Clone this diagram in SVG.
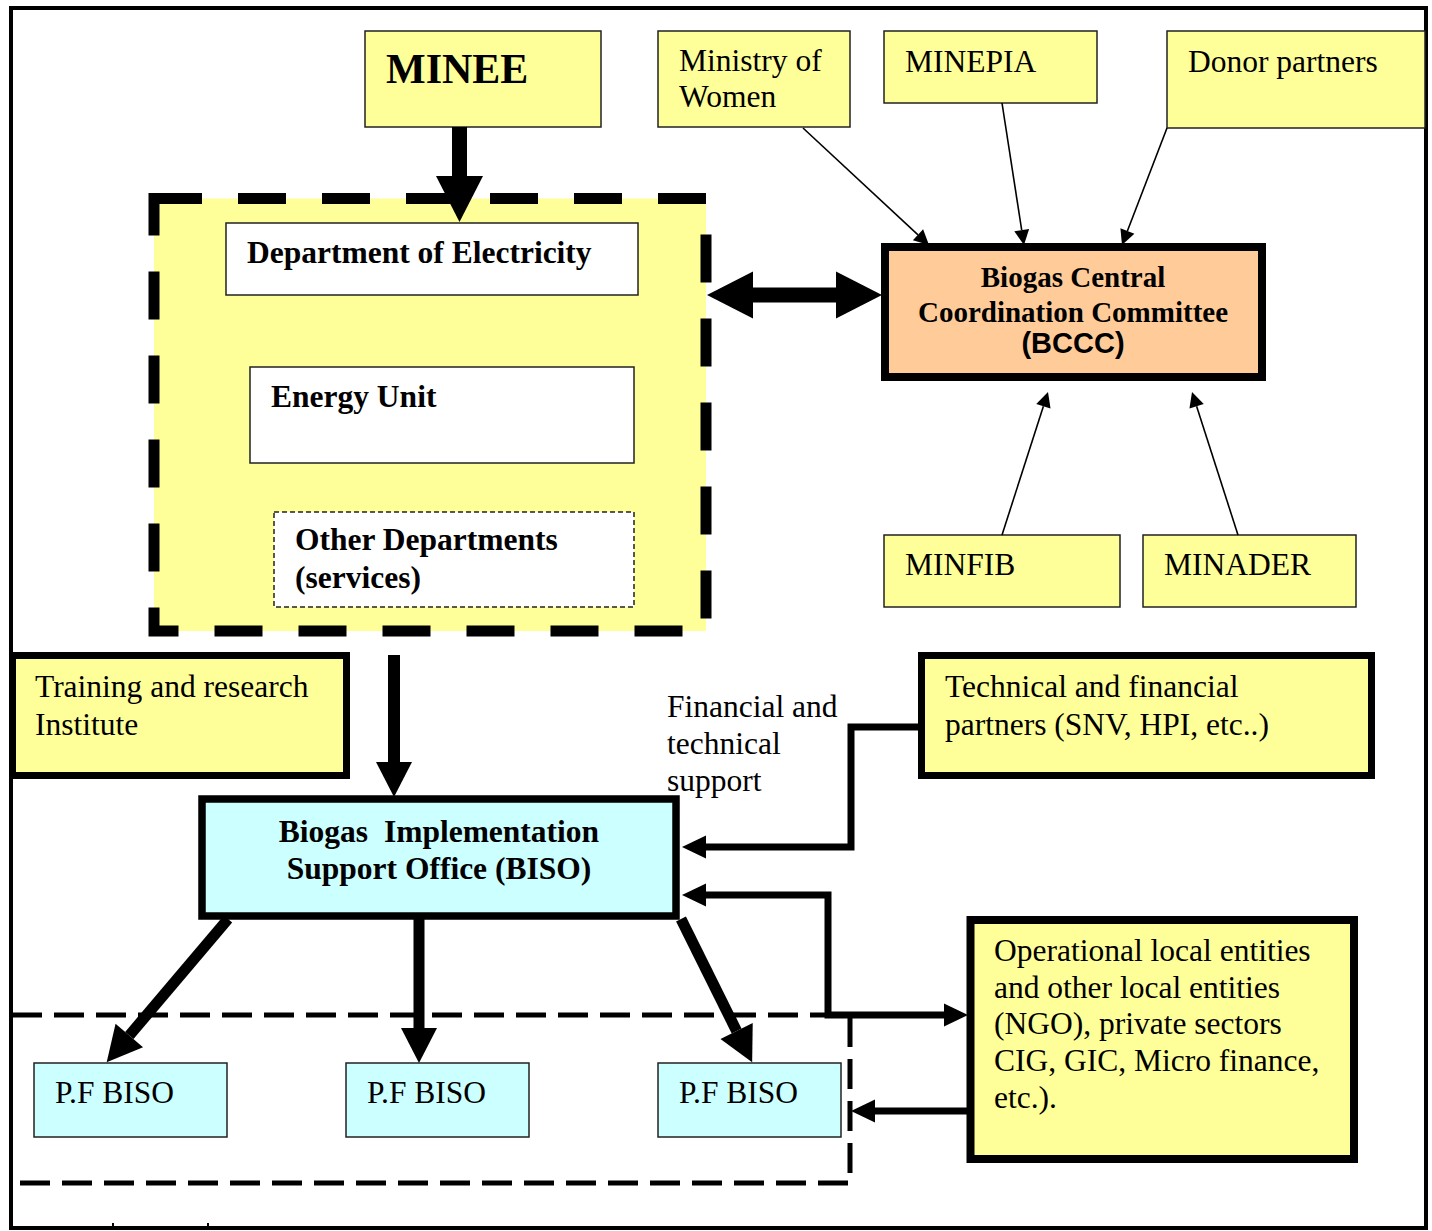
<svg xmlns="http://www.w3.org/2000/svg" width="1432" height="1231" viewBox="0 0 1432 1231">
<style>
.t{font-family:"Liberation Serif","Times New Roman",serif;font-size:31.5px;fill:#000}
.b{font-family:"Liberation Serif","Times New Roman",serif;font-size:31.5px;font-weight:bold;fill:#000}
.bc{font-family:"Liberation Serif","Times New Roman",serif;font-size:29px;font-weight:bold;fill:#000}
.bs{font-family:"Liberation Sans",Arial,sans-serif;font-size:29px;font-weight:bold;fill:#000}
.yel{fill:#FFFF99;stroke:#222;stroke-width:1.5}
.cyan{fill:#CCFFFF;stroke:#222;stroke-width:1.5}
.wht{fill:#FFFFFF;stroke:#222;stroke-width:1.5}
.thk{stroke:#000;stroke-linejoin:miter}
.thin{fill:none;stroke:#000;stroke-width:1.6}
.conn{fill:none;stroke:#000;stroke-width:7}
</style>
<defs>
<marker id="mThin" markerUnits="userSpaceOnUse" orient="auto" overflow="visible" markerWidth="20" markerHeight="20" refX="0" refY="0"><path d="M0,-7.5 L15,0 L0,7.5 z" fill="#000"/></marker>
<marker id="mConn" markerUnits="userSpaceOnUse" orient="auto-start-reverse" overflow="visible" markerWidth="30" markerHeight="30" refX="0" refY="0"><path d="M0,-11.5 L24,0 L0,11.5 z" fill="#000"/></marker>
<marker id="mBig" markerUnits="userSpaceOnUse" orient="auto-start-reverse" overflow="visible" markerWidth="50" markerHeight="50" refX="0" refY="0"><path d="M0,-23.5 L46,0 L0,23.5 z" fill="#000"/></marker>
<marker id="mMid" markerUnits="userSpaceOnUse" orient="auto" overflow="visible" markerWidth="40" markerHeight="40" refX="0" refY="0"><path d="M0,-18 L35,0 L0,18 z" fill="#000"/></marker>
</defs>
<rect x="0" y="0" width="1432" height="1231" fill="#FFFFFF"/>

<g id="outer-frame">
<rect x="11" y="8" width="1415" height="1220" fill="none" stroke="#000" stroke-width="4"/>
<line x1="113" y1="1223" x2="113" y2="1228" stroke="#000" stroke-width="2"/>
<line x1="208" y1="1223" x2="208" y2="1228" stroke="#000" stroke-width="2"/>
</g>

<g id="pf-group-frame">
<path d="M12,1015 H850 V1183 H12" fill="none" stroke="#000" stroke-width="5" stroke-dasharray="30 12"/>
</g>

<g id="node-minee-group">
<rect x="154" y="198.5" width="552" height="432.5" fill="#FFFF99" stroke="#000" stroke-width="11" stroke-dasharray="48 36"/>
</g>

<g id="node-minee">
<rect class="yel" x="365" y="31" width="236" height="96"/>
<text class="b" x="386" y="83" style="font-size:42px">MINEE</text>
</g>

<g id="node-ministry-women">
<rect class="yel" x="658" y="31" width="192" height="96"/>
<text class="t" x="679" y="71">Ministry of</text>
<text class="t" x="679" y="107">Women</text>
</g>

<g id="node-minepia">
<rect class="yel" x="884" y="31" width="213" height="72"/>
<text class="t" x="905" y="72">MINEPIA</text>
</g>

<g id="node-donor">
<rect class="yel" x="1167" y="31" width="258" height="97"/>
<text class="t" x="1188" y="72">Donor partners</text>
</g>

<g id="node-dept-electricity">
<rect class="wht" x="226" y="223" width="412" height="72"/>
<text class="b" x="247" y="263">Department of Electricity</text>
</g>

<g id="node-energy-unit">
<rect class="wht" x="250" y="367" width="384" height="96"/>
<text class="b" x="271" y="407">Energy Unit</text>
</g>

<g id="node-other-departments">
<rect class="wht" x="274" y="512" width="360" height="95" stroke-dasharray="5 3"/>
<text class="b" x="295" y="550">Other Departments</text>
<text class="b" x="295" y="588">(services)</text>
</g>

<g id="node-bccc">
<rect x="885" y="247" width="377" height="130" fill="#FFCC99" class="thk" stroke-width="8"/>
<text class="bc" x="1073" y="287" text-anchor="middle">Biogas Central</text>
<text class="bc" x="1073" y="322" text-anchor="middle">Coordination Committee</text>
<text class="bs" x="1073" y="353" text-anchor="middle">(BCCC)</text>
</g>

<g id="node-minfib">
<rect class="yel" x="884" y="535" width="236" height="72"/>
<text class="t" x="905" y="575">MINFIB</text>
</g>

<g id="node-minader">
<rect class="yel" x="1143" y="535" width="213" height="72"/>
<text class="t" x="1164" y="575">MINADER</text>
</g>

<g id="node-training">
<rect x="12.5" y="655.5" width="334" height="120" fill="#FFFF99" class="thk" stroke-width="7"/>
<text class="t" x="35" y="697">Training and research</text>
<text class="t" x="35" y="735">Institute</text>
</g>

<g id="node-tfp">
<rect x="921.5" y="655.5" width="450" height="120" fill="#FFFF99" class="thk" stroke-width="7"/>
<text class="t" x="945" y="697">Technical and financial</text>
<text class="t" x="945" y="735">partners (SNV, HPI, etc..)</text>
</g>

<g id="label-support">
<text class="t" x="667" y="717">Financial and</text>
<text class="t" x="667" y="754">technical</text>
<text class="t" x="667" y="791">support</text>
</g>

<g id="node-biso">
<rect x="202" y="799" width="474" height="117" fill="#CCFFFF" class="thk" stroke-width="7.5"/>
<text class="b" x="439" y="842" text-anchor="middle" xml:space="preserve">Biogas  Implementation</text>
<text class="b" x="439" y="879" text-anchor="middle">Support Office (BISO)</text>
</g>

<g id="node-operational">
<rect x="970.5" y="920" width="383.5" height="239" fill="#FFFF99" class="thk" stroke-width="8"/>
<text class="t" x="994" y="961">Operational local entities</text>
<text class="t" x="994" y="998">and other local entities</text>
<text class="t" x="994" y="1034">(NGO), private sectors</text>
<text class="t" x="994" y="1071">CIG, GIC, Micro finance,</text>
<text class="t" x="994" y="1108">etc.).</text>
</g>

<g id="node-pf-biso-1">
<rect class="cyan" x="34" y="1063" width="193" height="74"/>
<text class="t" x="55" y="1103">P.F BISO</text>
</g>
<g id="node-pf-biso-2">
<rect class="cyan" x="346" y="1063" width="183" height="74"/>
<text class="t" x="367" y="1103">P.F BISO</text>
</g>
<g id="node-pf-biso-3">
<rect class="cyan" x="658" y="1063" width="183" height="74"/>
<text class="t" x="679" y="1103">P.F BISO</text>
</g>

<g id="connectors">
<line x1="459.5" y1="127" x2="459.5" y2="176" stroke="#000" stroke-width="15" marker-end="url(#mBig)"/>
<line x1="753" y1="295" x2="836" y2="295" stroke="#000" stroke-width="15" marker-start="url(#mBig)" marker-end="url(#mBig)"/>
<line class="thin" x1="803" y1="128" x2="918" y2="234.8" marker-end="url(#mThin)"/>
<line class="thin" x1="1002" y1="103" x2="1021.7" y2="230.2" marker-end="url(#mThin)"/>
<line class="thin" x1="1167" y1="128" x2="1127.4" y2="231" marker-end="url(#mThin)"/>
<line class="thin" x1="1002" y1="535" x2="1043.4" y2="406.3" marker-end="url(#mThin)"/>
<line class="thin" x1="1238" y1="535" x2="1196.6" y2="406.3" marker-end="url(#mThin)"/>
<line x1="394" y1="655" x2="394" y2="762" stroke="#000" stroke-width="12" marker-end="url(#mMid)"/>
<path class="conn" d="M918,727 H851 V847 H706" marker-end="url(#mConn)"/>
<path class="conn" d="M706,895 H828 V1015 H944" marker-start="url(#mConn)" marker-end="url(#mConn)"/>
<path class="conn" d="M968,1111 H875" marker-end="url(#mConn)"/>
<line x1="228" y1="919" x2="129.3" y2="1035.5" stroke="#000" stroke-width="11" marker-end="url(#mMid)"/>
<line x1="419" y1="919" x2="419" y2="1028" stroke="#000" stroke-width="11" marker-end="url(#mMid)"/>
<line x1="681" y1="919" x2="736.6" y2="1031" stroke="#000" stroke-width="11" marker-end="url(#mMid)"/>
</g>
</svg>
